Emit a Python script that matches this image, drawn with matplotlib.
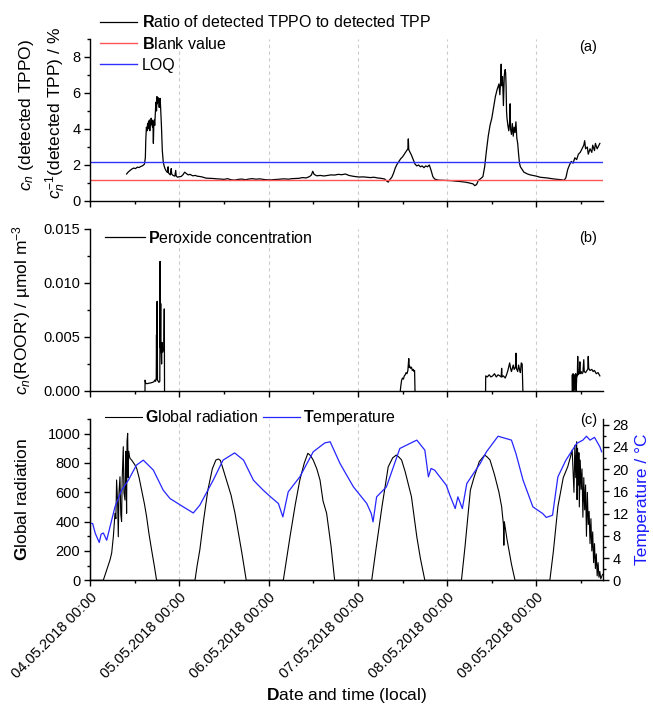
"""Three stacked panels: TPPO/TPP ratio, peroxide concentration, radiation + temperature."""
import numpy as np
import pandas as pd
import matplotlib
matplotlib.use("Agg")
import matplotlib.pyplot as plt
import matplotlib.dates as mdates
from matplotlib.ticker import MultipleLocator, FormatStrFormatter

plt.rcParams["font.family"] = ["Liberation Sans", "DejaVu Sans"]
plt.rcParams["mathtext.fontset"] = "custom"
plt.rcParams["mathtext.rm"] = "Liberation Sans"
plt.rcParams["mathtext.it"] = "Liberation Sans:italic"
plt.rcParams["mathtext.bf"] = "Liberation Sans:bold"

START = pd.Timestamp("2018-05-04 00:00")
X_END_DAYS = 5.745

# --- panel (a): ratio of detected TPPO to detected TPP, % (days since start)
ratio_days = [0.41, 0.43, 0.45, 0.47, 0.49, 0.51, 0.53, 0.55, 0.57, 0.59, 0.61, 0.62, 0.625,
              0.632, 0.64, 0.645, 0.65, 0.655, 0.66, 0.665, 0.67, 0.675, 0.68, 0.685, 0.69,
              0.695, 0.70, 0.705, 0.71, 0.715, 0.72, 0.725, 0.73, 0.735, 0.74, 0.745, 0.75,
              0.755, 0.76, 0.765, 0.77, 0.775, 0.78, 0.785, 0.79, 0.795, 0.80, 0.805, 0.81,
              0.82, 0.83, 0.84, 0.85, 0.86, 0.87, 0.875, 0.88, 0.89, 0.90, 0.91, 0.915, 0.93,
              0.95, 0.96, 0.965, 0.98, 1.00, 1.02, 1.04, 1.06, 1.08, 1.10, 1.12, 1.15, 1.18,
              1.20, 1.23, 1.26, 1.30, 1.34, 1.38, 1.42, 1.46, 1.50, 1.54, 1.58, 1.62, 1.66,
              1.70, 1.74, 1.78, 1.82, 1.86, 1.90, 1.94, 1.98, 2.02, 2.06, 2.10, 2.14, 2.18,
              2.22, 2.26, 2.30, 2.34, 2.38, 2.42, 2.46, 2.48, 2.495, 2.51, 2.54, 2.58, 2.62,
              2.66, 2.70, 2.74, 2.78, 2.82, 2.86, 2.90, 2.94, 2.98, 3.02, 3.06, 3.10, 3.14,
              3.18, 3.22, 3.26, 3.30, 3.32, 3.34, 3.36, 3.38, 3.40, 3.42, 3.44, 3.46, 3.48,
              3.50, 3.52, 3.54, 3.56, 3.565, 3.57, 3.58, 3.60, 3.62, 3.64, 3.66, 3.68, 3.70,
              3.72, 3.74, 3.76, 3.78, 3.80, 3.82, 3.84, 3.86, 3.90, 3.95, 4.00, 4.05, 4.10,
              4.15, 4.20, 4.25, 4.29, 4.31, 4.33, 4.35, 4.37, 4.40, 4.42, 4.44, 4.46, 4.48,
              4.50, 4.52, 4.54, 4.56, 4.58, 4.59, 4.60, 4.605, 4.61, 4.62, 4.63, 4.64, 4.65,
              4.655, 4.66, 4.665, 4.67, 4.68, 4.69, 4.70, 4.705, 4.71, 4.72, 4.73, 4.74, 4.75,
              4.76, 4.77, 4.78, 4.79, 4.80, 4.81, 4.82, 4.84, 4.86, 4.88, 4.90, 4.93, 4.96,
              5.00, 5.04, 5.08, 5.12, 5.16, 5.20, 5.24, 5.28, 5.31, 5.33, 5.35, 5.37, 5.39,
              5.41, 5.43, 5.45, 5.47, 5.49, 5.51, 5.53, 5.54, 5.55, 5.57, 5.58, 5.60, 5.62,
              5.63, 5.65, 5.66, 5.68, 5.70, 5.71]
ratio_pct = [1.50, 1.62, 1.70, 1.78, 1.83, 1.80, 1.88, 1.86, 1.92, 1.96, 2.05, 2.4, 3.4,
             4.1, 3.9, 4.3, 4.0, 4.4, 4.1, 4.5, 3.9, 4.4, 4.2, 4.6, 4.3,
             4.5, 4.1, 4.4, 3.2, 4.3, 4.5, 4.2, 4.7, 5.2, 5.5, 5.0, 5.8,
             5.4, 5.75, 5.5, 5.7, 5.2, 5.6, 5.7, 5.3, 4.8, 4.2, 3.5, 2.8,
             2.2, 1.95, 1.8, 1.7, 1.62, 1.58, 1.9, 1.55, 1.5, 1.45, 1.8, 1.5, 1.42,
             1.38, 1.7, 1.4, 1.32, 1.35, 1.36, 1.45, 1.6, 1.52, 1.45, 1.48, 1.40, 1.42,
             1.38, 1.36, 1.33, 1.27, 1.26, 1.25, 1.23, 1.22, 1.20, 1.24, 1.18, 1.16, 1.20,
             1.22, 1.18, 1.22, 1.24, 1.21, 1.23, 1.20, 1.18, 1.17, 1.19, 1.20, 1.22, 1.23,
             1.21, 1.24, 1.25, 1.26, 1.30, 1.28, 1.36, 1.45, 1.65, 1.48, 1.40, 1.42, 1.39,
             1.42, 1.45, 1.44, 1.48, 1.46, 1.50, 1.42, 1.38, 1.35, 1.33, 1.34, 1.32, 1.30,
             1.32, 1.28, 1.26, 1.22, 1.12, 1.05, 1.20, 1.32, 1.55, 1.85, 2.05, 2.2, 2.35,
             2.45, 2.6, 2.75, 2.9, 3.45, 2.85, 2.75, 2.55, 2.3, 2.05, 1.95, 2.0, 1.9,
             1.95, 1.85, 1.95, 1.9, 2.0, 1.7, 1.35, 1.22, 1.16, 1.15, 1.14, 1.13, 1.10,
             1.08, 1.05, 1.0, 0.95, 0.85, 0.92, 1.15, 1.22, 1.35, 1.9, 2.8, 3.6, 4.2,
             4.6, 5.2, 5.8, 6.2, 6.5, 5.9, 6.8, 7.6, 6.4, 6.9, 5.3, 7.0, 7.3,
             7.1, 6.4, 5.0, 4.6, 4.2, 3.9, 4.4, 5.4, 4.0, 3.7, 4.3, 3.6, 4.1,
             3.8, 4.4, 3.5, 3.2, 2.6, 2.1, 1.9, 1.75, 1.6, 1.55, 1.5, 1.45, 1.42,
             1.38, 1.32, 1.30, 1.28, 1.25, 1.22, 1.20, 1.18, 1.15, 1.30, 1.75, 2.0, 2.2,
             2.1, 2.4, 2.3, 2.6, 2.7, 2.9, 3.1, 3.35, 2.9, 3.0, 2.6, 2.9, 2.7,
             3.1, 2.8, 3.2, 2.9, 3.1, 3.2]
blank_value = 1.17
loq_value = 2.16

# --- panel (b): peroxide concentration, umol m-3 (four measuring periods)
perox_days = [
    [0.616, 0.617, 0.625, 0.64, 0.66, 0.68, 0.70, 0.715, 0.725, 0.735, 0.742, 0.745, 0.748,
     0.752, 0.756, 0.765, 0.772, 0.782, 0.785, 0.788, 0.792, 0.795, 0.799, 0.802, 0.806,
     0.810, 0.815, 0.828, 0.832, 0.835],
    [3.475, 3.48, 3.49, 3.50, 3.51, 3.52, 3.53, 3.54, 3.55, 3.56, 3.57, 3.575, 3.58, 3.59,
     3.60, 3.61, 3.62, 3.63, 3.635, 3.64],
    [4.43, 4.432, 4.45, 4.47, 4.49, 4.51, 4.53, 4.55, 4.57, 4.59, 4.605, 4.61, 4.615, 4.63,
     4.65, 4.665, 4.68, 4.70, 4.71, 4.72, 4.74, 4.75, 4.765, 4.77, 4.775, 4.79, 4.80, 4.81,
     4.82, 4.83, 4.84, 4.848],
    [5.40, 5.402, 5.405, 5.41, 5.415, 5.42, 5.425, 5.43, 5.435, 5.44, 5.445, 5.452, 5.458,
     5.462, 5.467, 5.475, 5.48, 5.486, 5.49, 5.50, 5.51, 5.52, 5.53, 5.535, 5.55, 5.565,
     5.575, 5.58, 5.585, 5.60, 5.62, 5.635, 5.65, 5.67, 5.69, 5.71],
]
perox_conc = [
    [0.0, 0.0010, 0.0007, 0.00068, 0.00072, 0.00075, 0.0008, 0.00085, 0.0010, 0.0009, 0.0012,
     0.0052, 0.0011, 0.0083, 0.0010, 0.0009, 0.0008, 0.0009, 0.0120, 0.0040, 0.0081, 0.0038,
     0.0034, 0.0025, 0.0045, 0.0041, 0.0036, 0.0040, 0.0076, 0.0],
    [0.0, 0.0004, 0.0010, 0.0012, 0.0011, 0.0014, 0.0015, 0.0017, 0.0016, 0.0019, 0.0030,
     0.0022, 0.0023, 0.0021, 0.0022, 0.0019, 0.0020, 0.0018, 0.0019, 0.0],
    [0.0, 0.0014, 0.0013, 0.0015, 0.0013, 0.0014, 0.0016, 0.0013, 0.0015, 0.0014, 0.0013,
     0.0021, 0.0013, 0.0014, 0.0012, 0.0015, 0.0019, 0.0026, 0.0021, 0.0018, 0.0024, 0.0020,
     0.0022, 0.0035, 0.0021, 0.0018, 0.0024, 0.0020, 0.0017, 0.0026, 0.0025, 0.0],
    [0.0, 0.0015, 0.0002, 0.0016, 0.0, 0.0014, 0.0001, 0.0015, 0.0003, 0.0016, 0.0, 0.0015,
     0.0014, 0.0032, 0.0015, 0.0017, 0.0016, 0.0027, 0.0016, 0.0018, 0.0016, 0.0017, 0.0029,
     0.0018, 0.0017, 0.0019, 0.0020, 0.0032, 0.0021, 0.0019, 0.0020, 0.0018, 0.0019, 0.0016,
     0.0017, 0.0014],
]

# --- panel (c): global radiation and temperature
rad_days = [0.00, 0.149, 0.187, 0.224, 0.243, 0.262, 0.28, 0.29, 0.298, 0.31, 0.317, 0.325,
            0.336, 0.345, 0.354, 0.36, 0.373, 0.38, 0.392, 0.40, 0.403, 0.41, 0.415, 0.422,
            0.428, 0.433, 0.44, 0.448, 0.466, 0.50, 0.523, 0.55, 0.578, 0.61, 0.634, 0.66,
            0.69, 0.72, 0.746,
            1.176, 1.20, 1.23, 1.27, 1.32, 1.37, 1.41, 1.437, 1.46, 1.49, 1.53, 1.58, 1.624,
            1.66, 1.70, 1.75,
            2.165, 2.20, 2.24, 2.30, 2.35, 2.40, 2.44, 2.47, 2.50, 2.54, 2.576, 2.61, 2.65,
            2.70, 2.74,
            3.155, 3.20, 3.27, 3.34, 3.39, 3.43, 3.46, 3.49, 3.53, 3.60, 3.66, 3.70, 3.75,
            4.16, 4.20, 4.26, 4.30, 4.36, 4.42, 4.45, 4.48, 4.53, 4.58, 4.61, 4.63, 4.635,
            4.64, 4.67, 4.72, 4.76,
            5.15, 5.19, 5.24, 5.30, 5.35, 5.38, 5.40, 5.42, 5.43, 5.44, 5.45, 5.455, 5.46,
            5.47, 5.475, 5.48, 5.49, 5.50, 5.51, 5.52, 5.53, 5.54, 5.55, 5.56, 5.57, 5.58,
            5.59, 5.60, 5.61, 5.62, 5.63, 5.64, 5.65, 5.66, 5.67, 5.68, 5.69, 5.70, 5.71,
            5.72, 5.74]
rad_wm2 = [0, 0, 70, 138, 186, 300, 457, 420, 684, 520, 297, 600,
           706, 450, 400, 680, 911, 600, 547, 880, 820, 457, 950, 1002,
           700, 880, 850, 832, 820, 790, 763, 700, 615, 520, 434, 320,
           207, 100, 0,
           0, 100, 207, 400, 615, 760, 820, 827, 818, 760, 680, 580, 457,
           330, 190, 0,
           0, 140, 297, 520, 684, 800, 866, 850, 820, 760, 684, 540, 457,
           230, 0,
           0, 200, 502, 774, 835, 854, 840, 820, 740, 570, 297, 150, 0,
           0, 230, 615, 700, 810, 854, 840, 820, 720, 600, 502, 380, 239,
           400, 280, 110, 0,
           0, 200, 502, 700, 774, 840, 887, 600, 920, 700, 945, 550, 900,
           650, 870, 500, 820, 620, 760, 430, 700, 480, 650, 300, 600, 380,
           470, 250, 420, 200, 330, 120, 250, 80, 180, 30, 120, 20, 60,
           10, 40]

temp_days = [0.00, 0.03, 0.06, 0.104, 0.125, 0.15, 0.187, 0.224, 0.28, 0.354, 0.43, 0.52,
             0.597, 0.71, 0.82, 0.896, 1.045, 1.157, 1.23, 1.38, 1.49, 1.62, 1.72, 1.83,
             1.94, 2.015, 2.11, 2.16, 2.22, 2.35, 2.50, 2.63, 2.69, 2.80, 2.95, 3.10, 3.15,
             3.17, 3.21, 3.32, 3.47, 3.66, 3.75, 3.79, 3.82, 3.86, 3.99, 4.03, 4.09, 4.12,
             4.17, 4.22, 4.37, 4.44, 4.57, 4.72, 4.77, 4.85, 4.96, 5.07, 5.11, 5.18, 5.24,
             5.33, 5.45, 5.52, 5.56, 5.60, 5.65, 5.71, 5.73]
temp_c = [10.3, 10.2, 8.4, 6.8, 8.3, 8.5, 7.2, 9.6, 13.2, 16.2, 18.0, 20.7,
          21.6, 19.8, 16.2, 14.7, 13.2, 12.1, 13.5, 18.0, 21.6, 22.9, 21.6, 18.0,
          16.2, 15.1, 13.8, 11.4, 15.9, 18.6, 23.1, 24.7, 24.9, 21.0, 16.8, 13.8, 12.0,
          10.5, 15.0, 16.8, 23.7, 25.2, 23.4, 18.6, 20.1, 19.8, 17.1, 15.3, 12.9, 15.0,
          12.9, 17.4, 21.0, 23.1, 25.9, 25.2, 22.8, 18.0, 13.2, 12.0, 11.3, 11.7, 18.6,
          21.6, 24.6, 25.2, 25.9, 25.2, 25.7, 24.0, 23.1]


def to_time(days):
    return START + pd.to_timedelta(np.asarray(days, dtype=float), unit="D")


def style_axis(ax):
    for side in ("top", "right"):
        ax.spines[side].set_visible(False)
    for side in ("left", "bottom"):
        ax.spines[side].set_linewidth(1.0)
    ax.tick_params(axis="both", which="major", direction="out", length=4.5, width=1.0,
                   labelsize=10.5, pad=2.5)
    ax.tick_params(axis="both", which="minor", direction="out", length=2.5, width=1.0)
    ax.grid(axis="x", which="major", linestyle=(0, (3, 3)), color="#cccccc", linewidth=0.8)
    ax.set_axisbelow(True)


fig = plt.figure(figsize=(6.53, 7.05), dpi=100)
left, width = 0.1378, 0.7856
ax_a = fig.add_axes([left, 0.7149, width, 0.2298])
ax_b = fig.add_axes([left, 0.4454, width, 0.2298], sharex=ax_a)
ax_c = fig.add_axes([left, 0.1769, width, 0.2288], sharex=ax_a)

# panel (a)
style_axis(ax_a)
l_ratio, = ax_a.plot(to_time(ratio_days), ratio_pct, color="black", linewidth=0.9,
                     label=r"$\mathbf{R}$atio of detected TPPO to detected TPP")
l_blank = ax_a.axhline(blank_value, color="#ff5555", linewidth=1.0,
                       label=r"$\mathbf{B}$lank value")
l_loq = ax_a.axhline(loq_value, color="#3030ff", linewidth=1.0, label="LOQ")
ax_a.set_ylim(0, 9)
ax_a.yaxis.set_major_locator(MultipleLocator(2))
ax_a.yaxis.set_minor_locator(MultipleLocator(1))
ax_a.tick_params(axis="x", labelbottom=False)
ax_a.text(0.988, 0.948, "(a)", transform=ax_a.transAxes, ha="right", va="center", fontsize=10.5)
fig.legend(handles=[l_ratio, l_blank, l_loq], loc="upper left",
           bbox_to_anchor=(0.153, 0.980), frameon=False, fontsize=11.5,
           handlelength=2.35, handletextpad=0.3, labelspacing=0.36,
           borderpad=0, borderaxespad=0)
fig.text(0.041, 0.837, r"$c_n$ (detected TPPO)", rotation=90, ha="center", va="center",
         fontsize=12.5)
fig.text(0.086, 0.840, r"$c_n^{-1}$(detected TPP) / %", rotation=90, ha="center",
         va="center", fontsize=12.5)

# panel (b)
style_axis(ax_b)
for seg_days, seg_conc in zip(perox_days, perox_conc):
    l_perox, = ax_b.plot(to_time(seg_days), seg_conc, color="black", linewidth=0.9)
ax_b.set_ylim(0, 0.015)
ax_b.yaxis.set_major_locator(MultipleLocator(0.005))
ax_b.yaxis.set_minor_locator(MultipleLocator(0.0025))
ax_b.yaxis.set_major_formatter(FormatStrFormatter("%.3f"))
ax_b.tick_params(axis="x", labelbottom=False)
ax_b.text(0.988, 0.944, "(b)", transform=ax_b.transAxes, ha="right", va="center", fontsize=10.5)
ax_b.legend([l_perox], [r"$\mathbf{P}$eroxide concentration"], loc="upper left",
            bbox_to_anchor=(0.161, 0.674), bbox_transform=fig.transFigure, frameon=False,
            fontsize=11.5, handlelength=2.5, handletextpad=0.2, borderpad=0,
            borderaxespad=0)
ax_b.set_ylabel(r"$c_n$(ROOR') / µmol m$^{-3}$", fontsize=12.5)
ax_b.yaxis.set_label_coords(-0.112, 0.5)

# panel (c)
style_axis(ax_c)
l_rad, = ax_c.plot(to_time(rad_days), rad_wm2, color="black", linewidth=0.8)
ax_c.set_ylim(0, 1100)
ax_c.yaxis.set_major_locator(MultipleLocator(200))
ax_c.yaxis.set_minor_locator(MultipleLocator(100))
ax_c.set_ylabel(r"$\mathbf{G}$lobal radiation", fontsize=12.5)
ax_c.yaxis.set_label_coords(-0.117, 0.5)

ax_t = ax_c.twinx()
ax_t.spines["top"].set_visible(False)
ax_t.spines["right"].set_linewidth(1.0)
l_temp, = ax_t.plot(to_time(temp_days), temp_c, color="#2525ff", linewidth=0.9)
ax_t.set_ylim(0, 29)
ax_t.yaxis.set_major_locator(MultipleLocator(4))
ax_t.yaxis.set_minor_locator(MultipleLocator(2))
ax_t.tick_params(axis="y", which="major", direction="out", length=4.5, width=1.0,
                 labelsize=10.5, pad=2.5)
ax_t.tick_params(axis="y", which="minor", direction="out", length=2.5, width=1.0)
ax_t.set_ylabel("Temperature / °C", color="#1a1aff", fontsize=12.5)
ax_t.yaxis.label.set_va("center")
ax_t.yaxis.set_label_coords(1.077, 0.5)
ax_c.text(0.988, 0.994, "(c)", transform=ax_c.transAxes, ha="right", va="center", fontsize=10.5)
ax_c.legend([l_rad, l_temp], [r"$\mathbf{G}$lobal radiation", r"$\mathbf{T}$emperature"],
            loc="upper left", bbox_to_anchor=(0.161, 0.421), bbox_transform=fig.transFigure,
            frameon=False, fontsize=11.5, ncol=2, handlelength=2.3, handletextpad=0.2,
            columnspacing=0.3, borderpad=0, borderaxespad=0)

# shared time axis
ax_c.set_xlim(START, START + pd.Timedelta(days=X_END_DAYS))
ax_c.xaxis.set_major_locator(mdates.DayLocator())
ax_c.xaxis.set_minor_locator(mdates.HourLocator(byhour=12))
ax_c.xaxis.set_major_formatter(mdates.DateFormatter("%d.%m.%Y %H:%M"))
for lab in ax_c.get_xticklabels():
    lab.set_rotation(45)
    lab.set_ha("right")
    lab.set_rotation_mode("anchor")
ax_c.set_xlabel(r"$\mathbf{D}$ate and time (local)", fontsize=12.5, labelpad=4)

fig.savefig("out.png", dpi=100)
